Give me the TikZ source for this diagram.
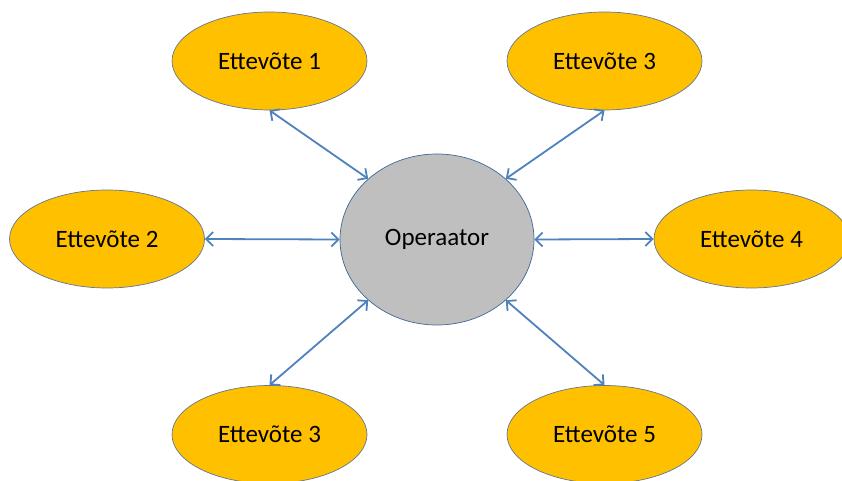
\documentclass[tikz,border=0pt]{standalone}
\usepackage{fontspec}
\setmainfont{Carlito}
\usetikzlibrary{arrows.meta,shapes.geometric}
\definecolor{orangefill}{RGB}{255,192,0}
\definecolor{grayfill}{RGB}{191,191,191}
\definecolor{outline}{RGB}{100,118,145}
\definecolor{arrowblue}{RGB}{79,129,189}
\tikzset{
  company/.style={ellipse, draw=outline, line width=0.7pt, fill=orangefill, minimum width=195pt, minimum height=98pt, inner sep=0pt, font=\fontsize{25}{29}\selectfont},
  operator/.style={ellipse, draw=arrowblue!80!black, line width=0.7pt, fill=grayfill, minimum width=194pt, minimum height=171pt, inner sep=0pt, font=\fontsize{25}{29}\selectfont},
  link/.style={draw=arrowblue, line width=1.8pt, {Straight Barb[length=7pt,width=14pt]}-{Straight Barb[length=7pt,width=14pt]}}
}
\begin{document}
\begin{tikzpicture}[x=1pt,y=-1pt]
\useasboundingbox (0,0) rectangle (842,481);
\node[operator] (op) at (437,239.5) {Operaator};
\node[company] (e1) at (269.5,61) {Ettevõte 1};
\node[company] (e3t) at (604.5,61) {Ettevõte 3};
\node[company] (e2) at (107,239) {Ettevõte 2};
\node[company] (e4) at (751.5,239) {Ettevõte 4};
\node[company] (e3b) at (269.5,434.5) {Ettevõte 3};
\node[company] (e5) at (604.5,434.5) {Ettevõte 5};
\draw[link] (e1.south) -- (op.north west);
\draw[link] (e3t.south) -- (op.north east);
\draw[link] (e2.east) -- (op.west);
\draw[link] (e4.west) -- (op.east);
\draw[link] (e3b.north) -- (op.south west);
\draw[link] (e5.north) -- (op.south east);
\end{tikzpicture}
\end{document}
